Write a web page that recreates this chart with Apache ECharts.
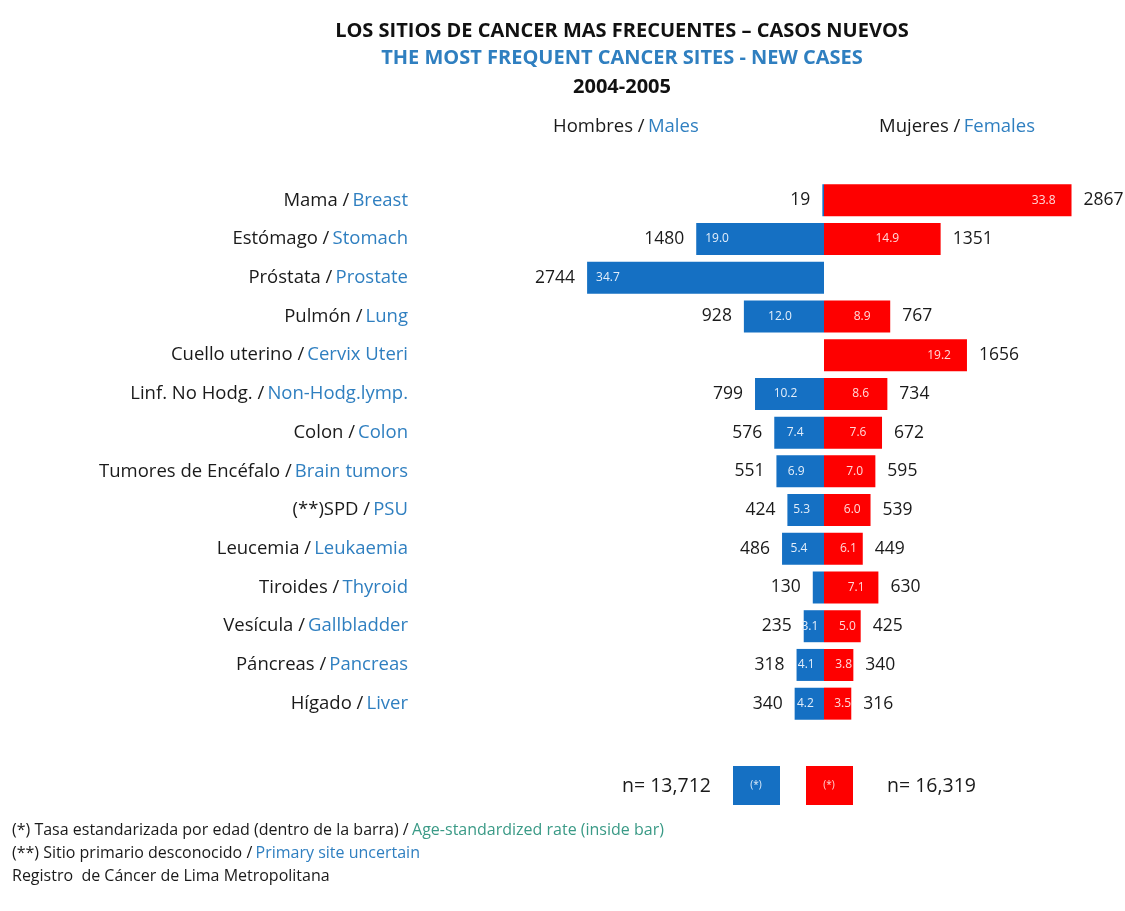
<!DOCTYPE html>
<html>
<head>
<meta charset="utf-8">
<script src="https://cdn.jsdelivr.net/npm/echarts@6/dist/echarts.min.js"></script>
<style>
  html, body { margin: 0; padding: 0; background: #ffffff; }
  #chart { width: 1125px; height: 911px; }
</style>
</head>
<body>
<div id="chart"></div>
<script>
// Cancer sites, Lima Metropolitana 2004-2005
const sitesEs = ['Mama', 'Estómago', 'Próstata', 'Pulmón', 'Cuello uterino', 'Linf. No Hodg.', 'Colon',
  'Tumores de Encéfalo', '(**)SPD', 'Leucemia', 'Tiroides', 'Vesícula', 'Páncreas', 'Hígado'];
const sitesEn = ['Breast', 'Stomach', 'Prostate', 'Lung', 'Cervix Uteri', 'Non-Hodg.lymp.', 'Colon',
  'Brain tumors', 'PSU', 'Leukaemia', 'Thyroid', 'Gallbladder', 'Pancreas', 'Liver'];

// New cases (bar length)
const maleCases   = [19, 1480, 2744, 928, null, 799, 576, 551, 424, 486, 130, 235, 318, 340];
const femaleCases = [2867, 1351, null, 767, 1656, 734, 672, 595, 539, 449, 630, 425, 340, 316];

// Age-standardized rate (printed inside the bar)
const maleRate   = [null, 19.0, 34.7, 12.0, null, 10.2, 7.4, 6.9, 5.3, 5.4, null, 3.1, 4.1, 4.2];
const femaleRate = [33.8, 14.9, null, 8.9, 19.2, 8.6, 7.6, 7.0, 6.0, 6.1, 7.1, 5.0, 3.8, 3.5];

const totalMale = 'n= 13,712';
const totalFemale = 'n= 16,319';

const BLUE = '#1570c3';
const RED = '#fe0000';
const EN_BLUE = '#2f7fc0';
const FONT = 'Open Sans';
const AXIS_MAX = 3000;

const chart = echarts.init(document.getElementById('chart'));

const gridTop = 181, gridHeight = 542;

// rate labels: long bars keep the label near the outer end, short bars centre it
const maleRateData = maleCases.map(v => ({
  value: v,
  label: v != null && v >= 1400
    ? { position: 'insideLeft', distance: 9 }
    : { position: 'inside', offset: [-4, 0] }
}));
const femaleRateData = femaleCases.map(v => ({
  value: v,
  label: v != null && v >= 1600
    ? { position: 'insideRight', distance: 16 }
    : { position: 'inside', offset: [5, 0] }
}));

const option = {
  backgroundColor: '#ffffff',
  animation: false,
  textStyle: { fontFamily: FONT },
  title: [
    { text: 'LOS SITIOS DE CANCER MAS FRECUENTES – CASOS NUEVOS', left: 617, top: 16, textAlign: 'center',
      textStyle: { fontFamily: FONT, fontSize: 20, fontWeight: 'bold', color: '#111111' } },
    { text: 'THE MOST FREQUENT CANCER SITES - NEW CASES', left: 617, top: 43, textAlign: 'center',
      textStyle: { fontFamily: FONT, fontSize: 20, fontWeight: 'bold', color: EN_BLUE } },
    { text: '2004-2005', left: 617, top: 72, textAlign: 'center',
      textStyle: { fontFamily: FONT, fontSize: 20, fontWeight: 'bold', color: '#111111' } }
  ],
  grid: [
    { left: 565, width: 259, top: gridTop, height: gridHeight, containLabel: false },
    { left: 824, width: 259, top: gridTop, height: gridHeight, containLabel: false }
  ],
  xAxis: [
    { gridIndex: 0, type: 'value', inverse: true, min: 0, max: AXIS_MAX, show: false },
    { gridIndex: 1, type: 'value', min: 0, max: AXIS_MAX, show: false }
  ],
  yAxis: [
    { gridIndex: 0, type: 'category', inverse: true, data: sitesEs, position: 'left',
      axisLine: { show: false, onZero: false }, axisTick: { show: false }, splitLine: { show: false },
      axisLabel: {
        margin: 157, align: 'right',
        formatter: (v, i) => '{es|' + v + ' /} {en|' + sitesEn[i] + '}',
        rich: {
          es: { fontFamily: FONT, fontSize: 18.5, color: '#1a1a1a' },
          en: { fontFamily: FONT, fontSize: 18.5, color: EN_BLUE }
        }
      } },
    { gridIndex: 1, type: 'category', inverse: true, data: sitesEs, show: false }
  ],
  series: [
    { name: 'Hombres', type: 'bar', xAxisIndex: 0, yAxisIndex: 0, data: maleCases, barWidth: 32,
      itemStyle: { color: BLUE },
      label: { show: true, position: 'left', distance: 12, fontFamily: FONT, fontSize: 17.5, color: '#1a1a1a',
        formatter: p => p.value == null ? '' : String(p.value) } },
    { name: 'Hombres tasa', type: 'bar', xAxisIndex: 0, yAxisIndex: 0, data: maleRateData, barWidth: 32, barGap: '-100%',
      itemStyle: { color: 'rgba(0,0,0,0)' }, silent: true, z: 3,
      label: { show: true, fontFamily: FONT, fontSize: 12, color: '#e3eefa',
        formatter: p => maleRate[p.dataIndex] == null ? '' : maleRate[p.dataIndex].toFixed(1) } },
    { name: 'Mujeres', type: 'bar', xAxisIndex: 1, yAxisIndex: 1, data: femaleCases, barWidth: 32,
      itemStyle: { color: RED },
      label: { show: true, position: 'right', distance: 12, fontFamily: FONT, fontSize: 17.5, color: '#1a1a1a',
        formatter: p => p.value == null ? '' : String(p.value) } },
    { name: 'Mujeres tasa', type: 'bar', xAxisIndex: 1, yAxisIndex: 1, data: femaleRateData, barWidth: 32, barGap: '-100%',
      itemStyle: { color: 'rgba(0,0,0,0)' }, silent: true, z: 3,
      label: { show: true, fontFamily: FONT, fontSize: 12, color: '#ffd9d9',
        formatter: p => femaleRate[p.dataIndex] == null ? '' : femaleRate[p.dataIndex].toFixed(1) } }
  ],
  graphic: [
    { type: 'text', left: 553, top: 117, style: { text: '{a|Hombres /} {b|Males}', rich: {
      a: { fontFamily: FONT, fontSize: 18.5, fill: '#1a1a1a' }, b: { fontFamily: FONT, fontSize: 18.5, fill: EN_BLUE } } } },
    { type: 'text', left: 879, top: 117, style: { text: '{a|Mujeres /} {b|Females}', rich: {
      a: { fontFamily: FONT, fontSize: 18.5, fill: '#1a1a1a' }, b: { fontFamily: FONT, fontSize: 18.5, fill: EN_BLUE } } } },
    // totals and legend boxes
    { type: 'text', left: 622, top: 776, style: { text: totalMale, fontFamily: FONT, fontSize: 19.5, fill: '#1a1a1a' } },
    { type: 'rect', shape: { x: 733, y: 766, width: 47, height: 39 }, style: { fill: BLUE } },
    { type: 'text', x: 756, y: 785, style: { text: '(*)', fontFamily: FONT, fontSize: 10, fill: '#e3eefa', align: 'center', verticalAlign: 'middle' } },
    { type: 'rect', shape: { x: 806, y: 766, width: 47, height: 39 }, style: { fill: RED } },
    { type: 'text', x: 829, y: 785, style: { text: '(*)', fontFamily: FONT, fontSize: 10, fill: '#ffd9d9', align: 'center', verticalAlign: 'middle' } },
    { type: 'text', left: 887, top: 776, style: { text: totalFemale, fontFamily: FONT, fontSize: 19.5, fill: '#1a1a1a' } },
    // footnotes
    { type: 'text', left: 12, top: 822, style: { text: '{a|(*) Tasa estandarizada por edad (dentro de la barra) /} {b|Age-standardized rate (inside bar)}', rich: {
      a: { fontFamily: FONT, fontSize: 16, fill: '#1a1a1a' }, b: { fontFamily: FONT, fontSize: 16, fill: '#3a9a86' } } } },
    { type: 'text', left: 12, top: 845, style: { text: '{a|(**) Sitio primario desconocido /} {b|Primary site uncertain}', rich: {
      a: { fontFamily: FONT, fontSize: 16, fill: '#1a1a1a' }, b: { fontFamily: FONT, fontSize: 16, fill: EN_BLUE } } } },
    { type: 'text', left: 12, top: 868, style: { text: 'Registro  de Cáncer de Lima Metropolitana', fontFamily: FONT, fontSize: 16, fill: '#1a1a1a' } }
  ]
};

chart.setOption(option);
</script>
</body>
</html>
